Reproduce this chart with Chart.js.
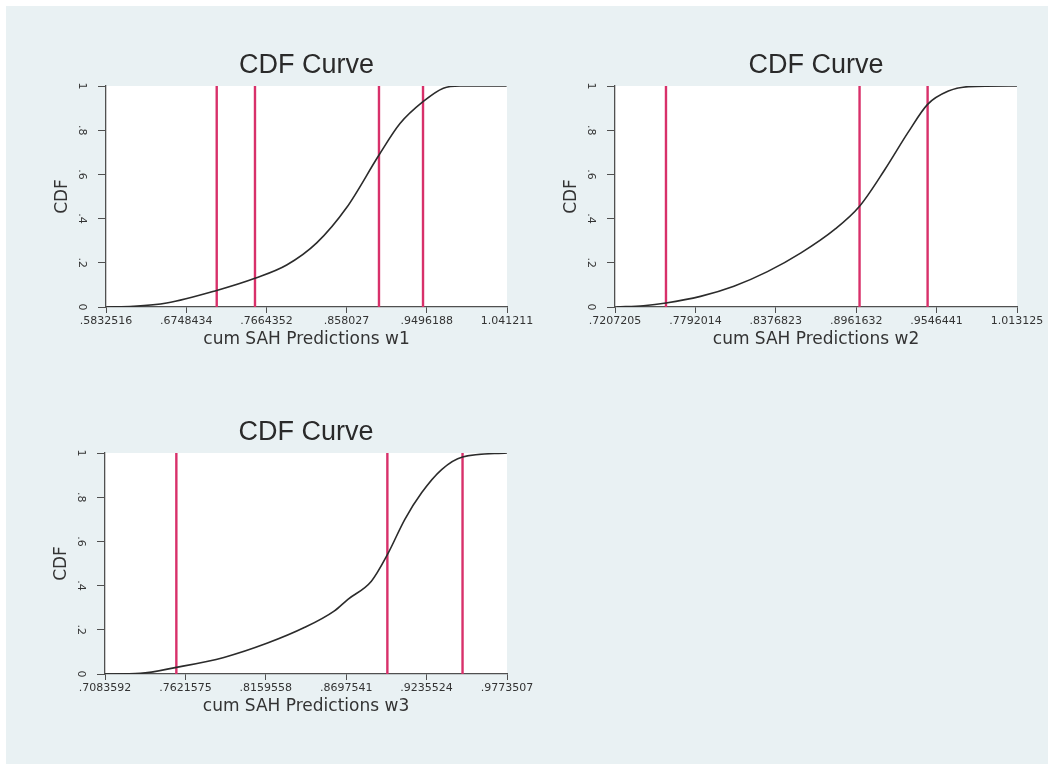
<!DOCTYPE html>
<html>
<head>
<meta charset="utf-8">
<script src="https://cdn.jsdelivr.net/npm/chart.js@4/dist/chart.umd.min.js"></script>
<style>
  body { margin: 0; background: #ffffff; }
  #bg { position: absolute; left: 6px; top: 6px; width: 1042px; height: 758px; background: #e9f1f3; }
  .panel { position: absolute; }
</style>
</head>
<body>
<div id="bg"></div>
<div class="panel" style="left:40px;top:45px;width:510px;height:325px;"><canvas id="c1"></canvas></div>
<div class="panel" style="left:549px;top:45px;width:505px;height:325px;"><canvas id="c2"></canvas></div>
<div class="panel" style="left:39px;top:412px;width:510px;height:325px;"><canvas id="c3"></canvas></div>
<script>
// Data
const yTicks = [0, 0.2, 0.4, 0.6, 0.8, 1];
const yTickLabels = ['0', '.2', '.4', '.6', '.8', '1'];

// w1
const w1Ticks = [0.5832516, 0.6748434, 0.7664352, 0.858027, 0.9496188, 1.041211];
const w1Labels = ['.5832516', '.6748434', '.7664352', '.858027', '.9496188', '1.041211'];
const w1X = [0.5840, 0.6144, 0.6525, 0.7097, 0.7534, 0.7896, 0.8239, 0.8581, 0.8954, 0.9190, 0.9456, 0.9685, 0.9875, 1.0408];
const w1Y = [0, 0.003, 0.018, 0.075, 0.13, 0.19, 0.29, 0.45, 0.69, 0.83, 0.93, 0.99, 1.0, 1.0];
const w1Lines = [0.7097, 0.7534, 0.8950, 0.9453];

// w2
const w2Ticks = [0.7207205, 0.7792014, 0.8376823, 0.8961632, 0.9546441, 1.013125];
const w2Labels = ['.7207205', '.7792014', '.8376823', '.8961632', '.9546441', '1.013125'];
const w2X = [0.7220, 0.7414, 0.7578, 0.7829, 0.8072, 0.8316, 0.8560, 0.8803, 0.8986, 0.9168, 0.9339, 0.9481, 0.9632, 0.9778, 1.0131];
const w2Y = [0, 0.006, 0.018, 0.048, 0.094, 0.16, 0.245, 0.35, 0.456, 0.62, 0.79, 0.917, 0.977, 0.997, 1.0];
const w2Lines = [0.7578, 0.8986, 0.9481];

// w3
const w3Ticks = [0.7083592, 0.7621575, 0.8159558, 0.8697541, 0.9235524, 0.9773507];
const w3Labels = ['.7083592', '.7621575', '.8159558', '.8697541', '.9235524', '.9773507'];
const w3X = [0.7084, 0.7319, 0.7561, 0.7879, 0.8171, 0.8417, 0.8619, 0.8709, 0.8866, 0.8973, 0.9090, 0.9202, 0.9336, 0.9476, 0.9773];
const w3Y = [0, 0.003, 0.03, 0.075, 0.14, 0.21, 0.286, 0.338, 0.42, 0.54, 0.70, 0.82, 0.925, 0.982, 1.0];
const w3Lines = [0.7561, 0.8973, 0.9476];

const axisColor = '#505050';
const textColor = '#333333';
const lineRed = '#d8306a';

// white plot region
const plotBg = {
    id: 'plotBg',
    beforeDraw(chart) {
        const a = chart.chartArea;
        chart.ctx.save();
        chart.ctx.fillStyle = '#ffffff';
        chart.ctx.fillRect(a.left, a.top, a.right - a.left, a.bottom - a.top);
        chart.ctx.restore();
    }
};

function makeChart(id, xs, ys, lines, ticks, labels, xTitle, padRight) {
    const datasets = [{
        data: xs.map((x, i) => ({ x: x, y: ys[i] })),
        borderColor: '#2b2b2b',
        borderWidth: 1.6,
        pointRadius: 0,
        cubicInterpolationMode: 'monotone',
        order: 0
    }];
    lines.forEach(v => {
        datasets.push({
            data: [{ x: v, y: 0 }, { x: v, y: 1 }],
            borderColor: lineRed,
            borderWidth: 2.4,
            pointRadius: 0,
            order: 1
        });
    });

    return new Chart(document.getElementById(id), {
        type: 'line',
        data: { datasets: datasets },
        plugins: [plotBg],
        options: {
            responsive: true,
            maintainAspectRatio: false,
            animation: false,
            layout: { padding: { left: 0, right: padRight, top: 0, bottom: 0 } },
            plugins: {
                legend: { display: false },
                tooltip: { enabled: false },
                title: {
                    display: true,
                    text: 'CDF Curve',
                    fullSize: false,
                    color: '#2a2a2a',
                    font: { family: 'Liberation Sans', size: 27, weight: 'normal' },
                    padding: { top: 4, bottom: 4.6 }
                }
            },
            scales: {
                x: {
                    type: 'linear',
                    min: ticks[0],
                    max: ticks[ticks.length - 1],
                    afterBuildTicks: s => { s.ticks = ticks.map(v => ({ value: v })); },
                    afterFit: s => { s.height = 63; },
                    grid: { display: true, drawOnChartArea: false, tickLength: 6, color: axisColor },
                    border: { display: true, color: axisColor, width: 1.3 },
                    ticks: {
                        autoSkip: false,
                        maxRotation: 0,
                        padding: 2,
                        color: textColor,
                        font: { family: 'DejaVu Sans', size: 11 },
                        callback: (v, i) => labels[i]
                    },
                    title: {
                        display: true,
                        text: xTitle,
                        color: textColor,
                        font: { family: 'DejaVu Sans', size: 17 },
                        padding: { top: 0, bottom: 20 }
                    }
                },
                y: {
                    min: 0,
                    max: 1,
                    afterBuildTicks: s => { s.ticks = yTicks.map(v => ({ value: v })); },
                    afterFit: s => { s.width = 66; },
                    grid: { display: true, drawOnChartArea: false, tickLength: 8, color: axisColor },
                    border: { display: true, color: axisColor, width: 1.3 },
                    ticks: {
                        minRotation: -90,
                        maxRotation: -90,
                        crossAlign: 'center',
                        padding: 11,
                        color: textColor,
                        font: { family: 'DejaVu Sans', size: 11 },
                        callback: (v, i) => yTickLabels[i]
                    },
                    title: {
                        display: true,
                        text: 'CDF',
                        color: textColor,
                        font: { family: 'DejaVu Sans', size: 17 },
                        padding: { top: 12, bottom: 0 }
                    }
                }
            }
        }
    });
}

makeChart('c1', w1X, w1Y, w1Lines, w1Ticks, w1Labels, 'cum SAH Predictions w1', 43);
makeChart('c2', w2X, w2Y, w2Lines, w2Ticks, w2Labels, 'cum SAH Predictions w2', 37);
makeChart('c3', w3X, w3Y, w3Lines, w3Ticks, w3Labels, 'cum SAH Predictions w3', 42);
</script>
</body>
</html>
